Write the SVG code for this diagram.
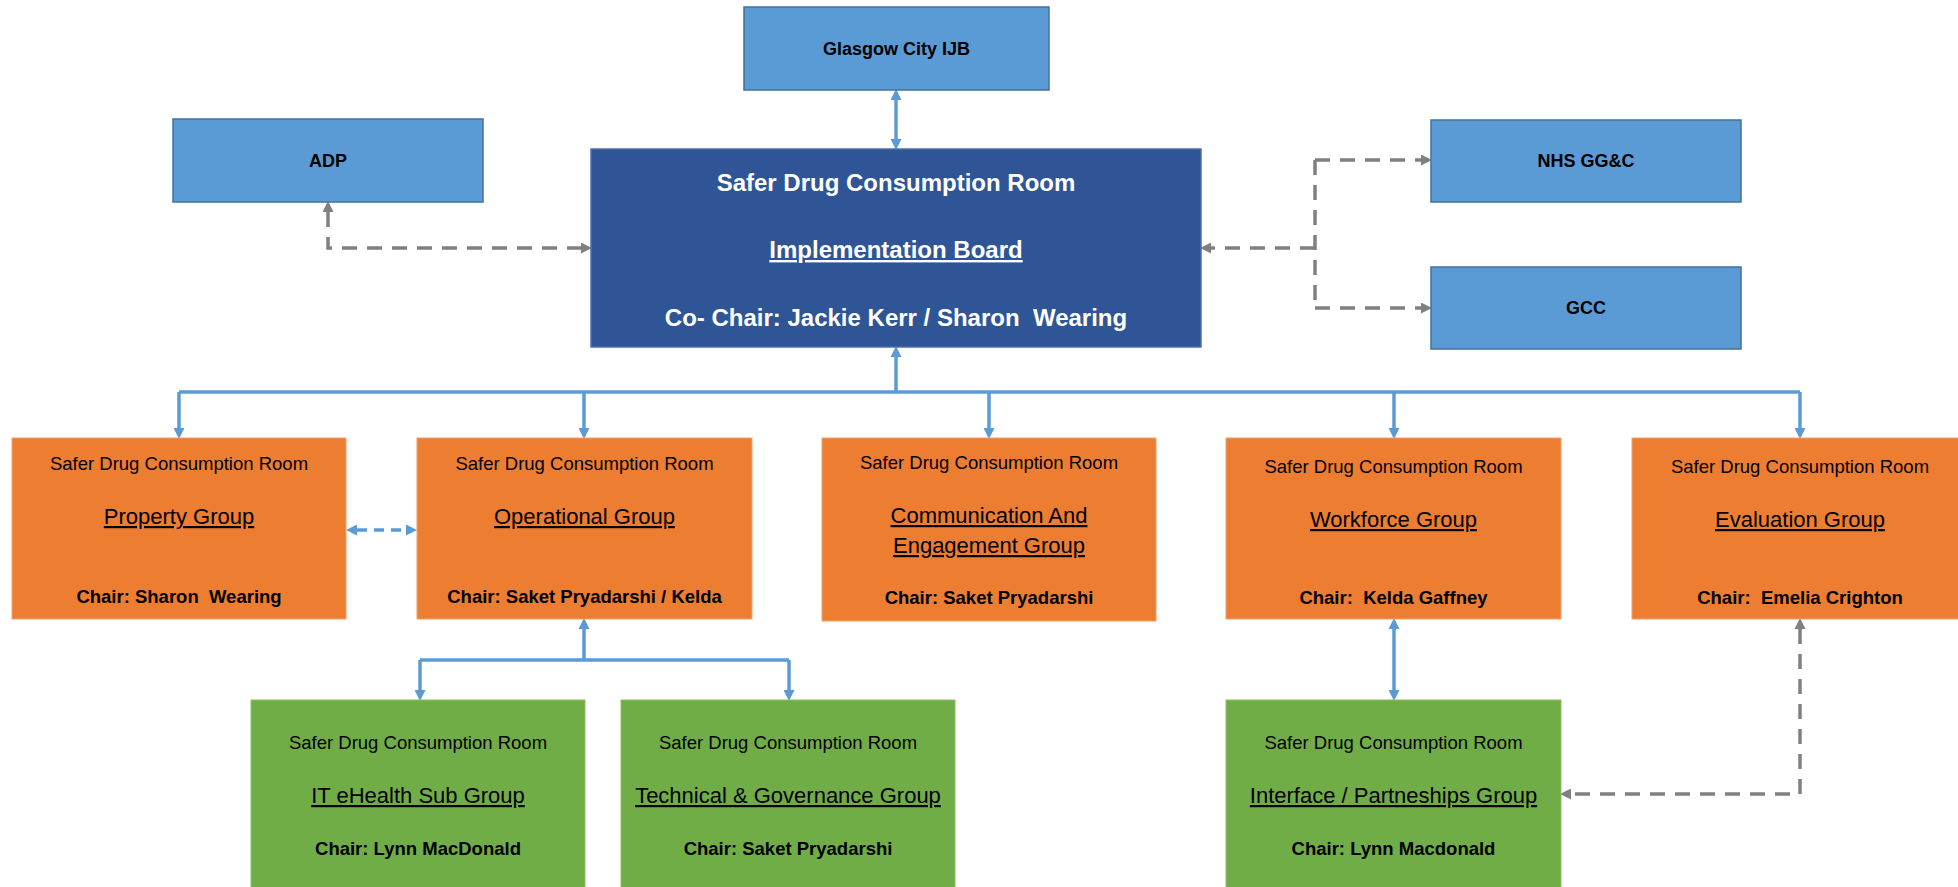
<svg xmlns="http://www.w3.org/2000/svg" width="1958" height="887" viewBox="0 0 1958 887">
<defs>
<marker id="ab" viewBox="0 0 10 10" refX="0" refY="5" markerUnits="userSpaceOnUse" markerWidth="11" markerHeight="11" orient="auto-start-reverse"><path d="M0,0 L10,5 L0,10 z" fill="#5B9BD5"/></marker>
<marker id="ag" viewBox="0 0 10 10" refX="0" refY="5" markerUnits="userSpaceOnUse" markerWidth="11" markerHeight="11" orient="auto-start-reverse"><path d="M0,0 L10,5 L0,10 z" fill="#808080"/></marker>
</defs>
<style>
text{font-family:"Liberation Sans",Arial,sans-serif;text-anchor:middle;white-space:pre}
.lb{fill:#5B9BD5;stroke:#41719C;stroke-width:1.5}
.mb{fill:#2F5597;stroke:#4A6FAF;stroke-width:1.5}
.or{fill:#ED7D31;stroke:#F4A06A;stroke-width:1}
.gr{fill:#70AD47;stroke:#8CC068;stroke-width:1}
.t18{font-size:18px;font-weight:bold;fill:#000}
.mt{font-size:24px;font-weight:bold;fill:#fff}
.s{font-size:18.5px;fill:#000}
.g{font-size:22px;fill:#000;text-decoration:underline}
.c{font-size:18.5px;font-weight:bold;fill:#000}
.bl{fill:none;stroke:#5B9BD5;stroke-width:3.5}
.bd{fill:none;stroke:#5B9BD5;stroke-width:3.5;stroke-dasharray:10 7}
.gd{fill:none;stroke:#808080;stroke-width:3.5;stroke-dasharray:15 10}
</style>
<g id="connectors">
<path class="bl" d="M896,100 V139" marker-start="url(#ab)" marker-end="url(#ab)"/>
<path class="bl" d="M896,392 V357" marker-end="url(#ab)"/>
<path class="bl" d="M179,392 H1800"/>
<path class="bl" d="M179,392 V428" marker-end="url(#ab)"/>
<path class="bl" d="M584,392 V428" marker-end="url(#ab)"/>
<path class="bl" d="M989,392 V428" marker-end="url(#ab)"/>
<path class="bl" d="M1394,392 V428" marker-end="url(#ab)"/>
<path class="bl" d="M1800,392 V428" marker-end="url(#ab)"/>
<path class="bl" d="M584,660 V629" marker-end="url(#ab)"/>
<path class="bl" d="M420,660 H789"/>
<path class="bl" d="M420,660 V690" marker-end="url(#ab)"/>
<path class="bl" d="M789,660 V690" marker-end="url(#ab)"/>
<path class="bl" d="M1394,629 V690" marker-start="url(#ab)" marker-end="url(#ab)"/>
<path class="bd" d="M357,530 H406" marker-start="url(#ab)" marker-end="url(#ab)"/>
<path class="gd" d="M328,212 V248 H581" marker-start="url(#ag)" marker-end="url(#ag)"/>
<path class="gd" d="M1315,248 H1211" marker-end="url(#ag)"/>
<path class="gd" d="M1315,160 V308"/>
<path class="gd" d="M1315,160 H1421" marker-end="url(#ag)"/>
<path class="gd" d="M1315,308 H1421" marker-end="url(#ag)"/>
<path class="gd" d="M1800,629 V794 H1571" marker-start="url(#ag)" marker-end="url(#ag)"/>
</g>
<g id="glasgow"><rect class="lb" x="744" y="7" width="305" height="83"/><text class="t18" x="896.5" y="55">Glasgow City IJB</text></g>
<g id="adp"><rect class="lb" x="173" y="119" width="310" height="83"/><text class="t18" x="328" y="167">ADP</text></g>
<g id="nhs"><rect class="lb" x="1431" y="120" width="310" height="82"/><text class="t18" x="1586" y="167">NHS GG&amp;C</text></g>
<g id="gcc"><rect class="lb" x="1431" y="267" width="310" height="82"/><text class="t18" x="1586" y="314">GCC</text></g>
<g id="board"><rect class="mb" x="591" y="149" width="610" height="198"/>
<text class="mt" x="896" y="191">Safer Drug Consumption Room</text>
<text class="mt" x="896" y="258" text-decoration="underline">Implementation Board</text>
<text class="mt" x="896" y="326">Co- Chair: Jackie Kerr / Sharon  Wearing</text></g>
<g id="property"><rect class="or" x="12" y="438" width="334" height="181"/>
<text class="s" x="179" y="470">Safer Drug Consumption Room</text>
<text class="g" x="179" y="524">Property Group</text>
<text class="c" x="179" y="603">Chair: Sharon  Wearing</text></g>
<g id="operational"><rect class="or" x="417" y="438" width="335" height="181"/>
<text class="s" x="584.5" y="470">Safer Drug Consumption Room</text>
<text class="g" x="584.5" y="524">Operational Group</text>
<text class="c" x="584.5" y="603">Chair: Saket Pryadarshi / Kelda</text></g>
<g id="communication"><rect class="or" x="822" y="438" width="334" height="183"/>
<text class="s" x="989" y="469">Safer Drug Consumption Room</text>
<text class="g" x="989" y="523">Communication And</text>
<text class="g" x="989" y="553">Engagement Group</text>
<text class="c" x="989" y="604">Chair: Saket Pryadarshi</text></g>
<g id="workforce"><rect class="or" x="1226" y="438" width="335" height="181"/>
<text class="s" x="1393.5" y="473">Safer Drug Consumption Room</text>
<text class="g" x="1393.5" y="527">Workforce Group</text>
<text class="c" x="1393.5" y="604">Chair:  Kelda Gaffney</text></g>
<g id="evaluation"><rect class="or" x="1632" y="438" width="336" height="181"/>
<text class="s" x="1800" y="473">Safer Drug Consumption Room</text>
<text class="g" x="1800" y="527">Evaluation Group</text>
<text class="c" x="1800" y="604">Chair:  Emelia Crighton</text></g>
<g id="itehealth"><rect class="gr" x="251" y="700" width="334" height="195"/>
<text class="s" x="418" y="749">Safer Drug Consumption Room</text>
<text class="g" x="418" y="803">IT eHealth Sub Group</text>
<text class="c" x="418" y="855">Chair: Lynn MacDonald</text></g>
<g id="technical"><rect class="gr" x="621" y="700" width="334" height="195"/>
<text class="s" x="788" y="749">Safer Drug Consumption Room</text>
<text class="g" x="788" y="803">Technical &amp; Governance Group</text>
<text class="c" x="788" y="855">Chair: Saket Pryadarshi</text></g>
<g id="interface"><rect class="gr" x="1226" y="700" width="335" height="195"/>
<text class="s" x="1393.5" y="749">Safer Drug Consumption Room</text>
<text class="g" x="1393.5" y="803">Interface / Partneships Group</text>
<text class="c" x="1393.5" y="855">Chair: Lynn Macdonald</text></g>
</svg>
